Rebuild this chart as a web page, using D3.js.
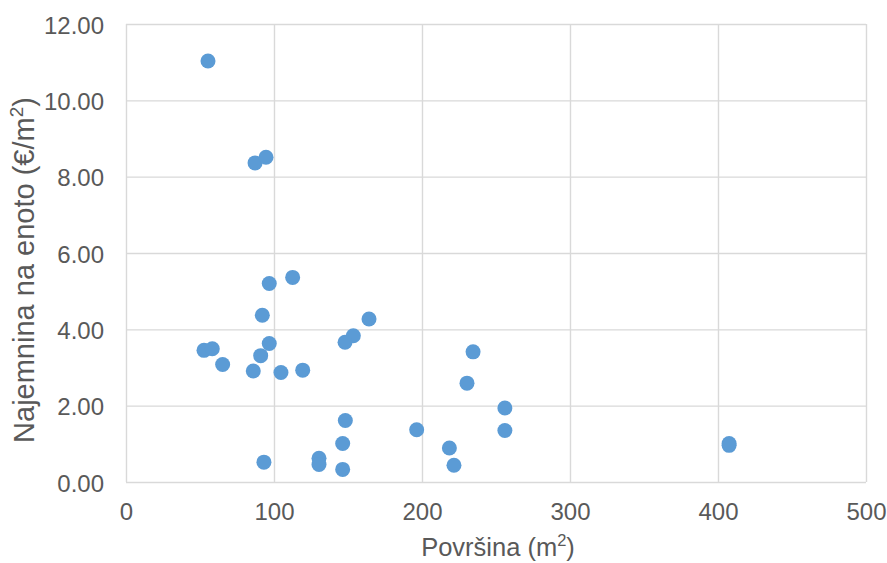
<!DOCTYPE html>
<html>
<head>
<meta charset="utf-8">
<script src="https://cdn.jsdelivr.net/npm/d3@7"></script>
<style>
  body { margin: 0; background: #fff; }
  svg text { font-family: "Liberation Sans", Arial, sans-serif; fill: #595959; }
</style>
</head>
<body>
<svg id="chart" width="887" height="563"></svg>
<script>
// Floor area (m²) and rent per unit (€/m²)
const area = [55.4, 87.2, 94.6, 96.8, 112.6, 92.1, 164.2, 153.6, 148, 52.7, 58.3, 65.3,
  96.8, 91, 86, 104.7, 119.4, 148.2, 146.4, 130.4, 130.4, 146.4, 196.4, 218.5, 221.6,
  93.2, 234.5, 230.4, 256, 256, 407.5, 407.5];
const rent = [11.03, 8.36, 8.51, 5.2, 5.36, 4.37, 4.27, 3.83, 3.66, 3.45, 3.49, 3.08,
  3.63, 3.31, 2.91, 2.87, 2.93, 1.61, 1.01, 0.62, 0.46, 0.33, 1.37, 0.89, 0.44,
  0.52, 3.41, 2.59, 1.94, 1.35, 1.01, 0.96];
const xTicks = [0, 100, 200, 300, 400, 500];
const yTicks = [0, 2, 4, 6, 8, 10, 12];

const svg = d3.select("#chart");
const m = { left: 126, right: 866, top: 24, bottom: 482 };

const x = d3.scaleLinear().domain([0, 500]).range([m.left, m.right]);
const y = d3.scaleLinear().domain([0, 12]).range([m.bottom, m.top]);

// Grid
const grid = svg.append("g");
grid.selectAll(".gx").data(xTicks).join("line")
  .attr("x1", d => x(d) + 0.5).attr("x2", d => x(d) + 0.5)
  .attr("y1", m.top).attr("y2", m.bottom)
  .attr("stroke", "#d9d9d9").attr("stroke-width", 1.4);
grid.selectAll(".gy").data(yTicks).join("line")
  .attr("x1", m.left).attr("x2", m.right)
  .attr("y1", d => y(d) + 0.5).attr("y2", d => y(d) + 0.5)
  .attr("stroke", "#d9d9d9").attr("stroke-width", 1.4);

// Axes (labels only)
const xAxis = svg.append("g").attr("transform", `translate(0,${m.bottom})`)
  .call(d3.axisBottom(x).tickValues(xTicks).tickSize(0).tickPadding(21).tickFormat(d3.format("d")));
xAxis.select(".domain").remove();
xAxis.selectAll("text").attr("font-size", 24).style("fill", "#595959");

const yAxis = svg.append("g").attr("transform", `translate(${m.left},0)`)
  .call(d3.axisLeft(y).tickValues(yTicks).tickSize(0).tickPadding(22).tickFormat(d3.format(".2f")));
yAxis.select(".domain").remove();
yAxis.selectAll("text").attr("font-size", 24).attr("dy", "0.38em").style("fill", "#595959");

// Points
svg.append("g").selectAll("circle").data(area.map((a, i) => [a, rent[i]])).join("circle")
  .attr("cx", d => x(d[0])).attr("cy", d => y(d[1])).attr("r", 7.5)
  .attr("fill", "#5b9bd5");

// Axis titles
const xt = svg.append("text").attr("x", 498).attr("y", 556)
  .attr("text-anchor", "middle").attr("font-size", 25.5);
xt.append("tspan").text("Površina (m");
xt.append("tspan").text("2").attr("font-size", 16.5).attr("dy", -10);
xt.append("tspan").text(")").attr("dy", 10);

const yt = svg.append("text")
  .attr("transform", "translate(34,270) rotate(-90)")
  .attr("text-anchor", "middle").attr("font-size", 29);
yt.append("tspan").text("Najemnina na enoto (€/m");
yt.append("tspan").text("2").attr("font-size", 19).attr("dy", -11);
yt.append("tspan").text(")").attr("dy", 11);
</script>
</body>
</html>
